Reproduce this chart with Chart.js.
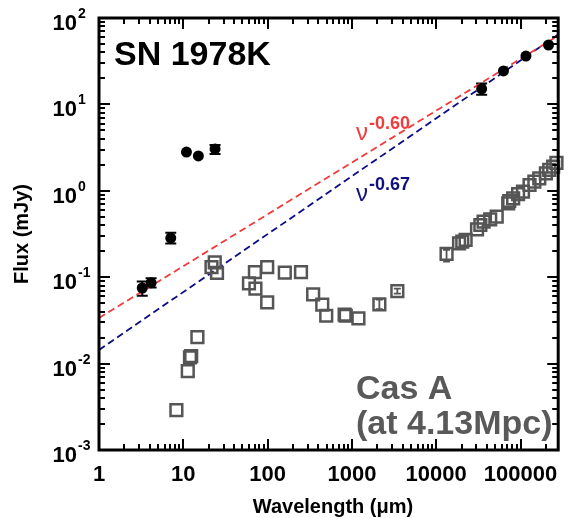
<!DOCTYPE html>
<html><head><meta charset="utf-8">
<script src="https://cdn.jsdelivr.net/npm/chart.js@4/dist/chart.umd.min.js"></script>
<style>html,body{margin:0;padding:0;background:#fff}canvas{display:block}</style>
</head><body>
<canvas id="c" width="569" height="518"></canvas>
<script>
// SN 1978K
const snWavelength = [3.26, 4.15, 7.1, 10.9, 15.1, 23.8, 34600, 62800, 116000, 215000];
const snFlux       = [0.075, 0.086, 0.284, 2.81, 2.53, 3.05, 15.1, 24.4, 36.3, 48.7];
const snFluxLow    = [0.061, 0.076, 0.246, null, null, 2.67, 12.9, null, null, null];
const snFluxHigh   = [0.089, 0.097, 0.327, null, null, 3.39, 17.5, null, null, null];
// Cas A scaled to 4.13 Mpc
const casWavelength = [8.28, 11.3, 12.0, 12.4, 14.7, 21.6, 23.6, 25.1, 60.1, 70.7, 71.7, 98.9, 98.9, 160, 249, 347, 445, 496, 820, 845, 1195, 2117, 3460,
  13270, 18660, 20380, 22330, 30500, 33400, 36500, 43700, 52200, 71500, 73400, 81800, 93600, 107000, 128000, 146000, 167000, 200000, 219000, 244000, 267000];
const casFlux = [0.0029, 0.0082, 0.0118, 0.0122, 0.0203, 0.131, 0.148, 0.112, 0.0846, 0.1148, 0.0736, 0.131, 0.051, 0.113, 0.1148, 0.0631, 0.0483, 0.0358, 0.0368, 0.0358, 0.0334, 0.0486, 0.0692,
  0.186, 0.247, 0.258, 0.270, 0.358, 0.402, 0.439, 0.468, 0.501, 0.716, 0.762, 0.819, 0.918, 0.977, 1.167, 1.274, 1.396, 1.595, 1.742, 1.90, 2.11];
const casErrWavelength = [2117, 3460, 13270];
const casErrLow  = [0.0428, 0.0647, 0.152];
const casErrHigh = [0.0551, 0.0739, 0.207];
// power-law fits (end points)
const fitWavelength = [1, 280000];
const fit060Flux = [0.0337, 62.5];
const fit067Flux = [0.0144, 64.3];
// axis ticks
const xTickValues = [1, 10, 100, 1000, 10000, 100000];
const xTickLabels = ['1', '10', '100', '1000', '10000', '100000'];
const yTickExponents = [-3, -2, -1, 0, 1, 2];

const FONT = "'Liberation Sans', Arial, Helvetica, sans-serif";

const framePlugin = {
  id: 'frame',
  beforeDatasetsDraw(chart) {
    const ctx = chart.ctx, xs = chart.scales.x, ys = chart.scales.y;
    ctx.save();
    const bar = (x, lo, hi, color, cap, lw) => {
      const px = xs.getPixelForValue(x), p1 = ys.getPixelForValue(lo), p2 = ys.getPixelForValue(hi);
      ctx.strokeStyle = color; ctx.lineWidth = lw;
      ctx.beginPath();
      ctx.moveTo(px, p1); ctx.lineTo(px, p2);
      ctx.moveTo(px - cap, p1); ctx.lineTo(px + cap, p1);
      ctx.moveTo(px - cap, p2); ctx.lineTo(px + cap, p2);
      ctx.stroke();
    };
    snWavelength.forEach((x, i) => { if (snFluxLow[i] != null) bar(x, snFluxLow[i], snFluxHigh[i], '#000', 5.5, 2); });
    casErrWavelength.forEach((x, i) => bar(x, casErrLow[i], casErrHigh[i], '#555', 3.5, 1.8));
    ctx.restore();
  },
  afterDraw(chart) {
    const ctx = chart.ctx, xs = chart.scales.x, ys = chart.scales.y, a = chart.chartArea;
    ctx.save();
    // ticks
    ctx.strokeStyle = '#000'; ctx.lineWidth = 2;
    ctx.beginPath();
    for (let d = 0; d <= 6; d++) {
      for (let k = 1; k <= 9; k++) {
        const v = k * Math.pow(10, d);
        if (v < xs.min || v > xs.max * 1.0001) continue;
        const px = Math.round(xs.getPixelForValue(v));
        const L = k === 1 ? 11 : 6;
        ctx.moveTo(px, a.bottom); ctx.lineTo(px, a.bottom - L);
        ctx.moveTo(px, a.top); ctx.lineTo(px, a.top + L);
      }
    }
    for (let d = -3; d <= 2; d++) {
      for (let k = 1; k <= 9; k++) {
        const v = k * Math.pow(10, d);
        if (v < ys.min * 0.9999 || v > ys.max * 1.0001) continue;
        const py = Math.round(ys.getPixelForValue(v));
        const L = k === 1 ? 11 : 6;
        ctx.moveTo(a.left, py); ctx.lineTo(a.left + L, py);
        ctx.moveTo(a.right, py); ctx.lineTo(a.right - L, py);
      }
    }
    ctx.stroke();
    // frame
    ctx.lineWidth = 3;
    ctx.strokeRect(a.left, a.top, a.right - a.left, a.bottom - a.top);

    // x tick labels
    ctx.fillStyle = '#000';
    ctx.font = 'bold 22px ' + FONT;
    ctx.textAlign = 'center'; ctx.textBaseline = 'alphabetic';
    xTickValues.forEach((v, i) => {
      ctx.fillText(xTickLabels[i], xs.getPixelForValue(v), a.bottom + 31);
    });
    // y tick labels with superscripts
    yTickExponents.forEach(e => {
      const py = ys.getPixelForValue(Math.pow(10, e));
      ctx.font = 'bold 22px ' + FONT;
      ctx.textAlign = 'right';
      ctx.fillText('10', 77, py + 12);
      ctx.font = 'bold 14px ' + FONT;
      ctx.textAlign = 'left';
      ctx.fillText(String(e), 78, py);
    });
    // axis titles
    ctx.font = 'bold 20px ' + FONT;
    ctx.textAlign = 'center';
    ctx.fillText('Wavelength (\u03bcm)', 333, 513);
    ctx.save();
    ctx.translate(28, 234);
    ctx.rotate(-Math.PI / 2);
    ctx.fillText('Flux (mJy)', 0, 0);
    ctx.restore();

    // annotations
    ctx.textAlign = 'left';
    ctx.font = 'bold 34px ' + FONT;
    ctx.fillStyle = '#000';
    ctx.fillText('SN 1978K', 114, 65);
    ctx.fillStyle = '#595959';
    ctx.fillText('Cas A', 356, 399);
    ctx.fillText('(at 4.13Mpc)', 356, 434);

    ctx.fillStyle = '#f03c3c';
    ctx.font = '24px ' + FONT;
    ctx.fillText('\u03bd', 356, 140);
    ctx.font = 'bold 18px ' + FONT;
    ctx.fillText('-0.60', 369, 129);
    ctx.fillStyle = '#10107e';
    ctx.font = '24px ' + FONT;
    ctx.fillText('\u03bd', 356, 201);
    ctx.font = 'bold 18px ' + FONT;
    ctx.fillText('-0.67', 369, 190);
    ctx.restore();
  }
};

const pts = (xa, ya) => xa.map((x, i) => ({ x: x, y: ya[i] }));

new Chart(document.getElementById('c').getContext('2d'), {
  type: 'scatter',
  data: {
    datasets: [
      { label: 'SN 1978K', data: pts(snWavelength, snFlux), pointStyle: 'circle', pointRadius: 5.5,
        backgroundColor: '#000', borderColor: '#000', borderWidth: 0, clip: false },
      { label: 'Cas A', data: pts(casWavelength, casFlux), pointStyle: 'rect', pointRadius: 8.3,
        backgroundColor: 'rgba(0,0,0,0)', borderColor: '#555', borderWidth: 2.5, clip: false },
      { label: 'nu^-0.60', data: pts(fitWavelength, fit060Flux), showLine: true, pointRadius: 0,
        borderColor: '#f23a3a', borderWidth: 1.8, borderDash: [7, 4], fill: false },
      { label: 'nu^-0.67', data: pts(fitWavelength, fit067Flux), showLine: true, pointRadius: 0,
        borderColor: '#0c0c86', borderWidth: 1.8, borderDash: [7, 4], fill: false }
    ]
  },
  options: {
    responsive: false, animation: false, events: [],
    layout: { padding: { left: 99, right: 3, top: 18, bottom: 68 } },
    plugins: { legend: { display: false }, tooltip: { enabled: false } },
    scales: {
      x: { type: 'logarithmic', min: 1, max: 280000, display: false },
      y: { type: 'logarithmic', min: 0.001, max: 100, display: false }
    }
  },
  plugins: [framePlugin]
});
</script>
</body></html>
